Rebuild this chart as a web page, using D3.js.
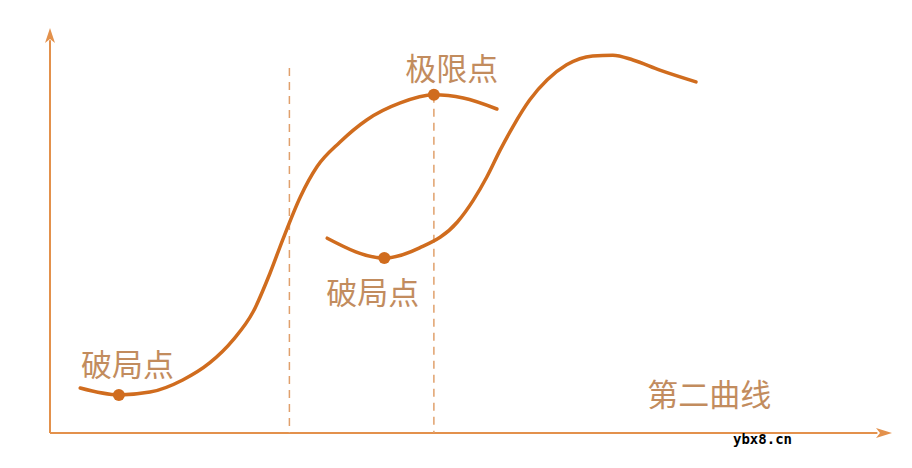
<!DOCTYPE html>
<html>
<head>
<meta charset="utf-8">
<script src="https://cdn.jsdelivr.net/npm/d3@7"></script>
<style>
  html, body { margin: 0; padding: 0; background: #fff; }
  svg { display: block; }
</style>
</head>
<body>
<div id="chart"></div>
<script>
// first curve (old growth), in 0-100 units
var curve1X = [3.6, 8.2, 11.9, 15.8, 19.0, 21.8, 24.2, 26.2, 27.7, 29.8, 31.8, 34.5, 37.7, 41.7, 45.7, 49.2, 53.2];
var curve1Y = [11.1, 9.4, 10.1, 13.1, 17.3, 23.0, 30.0, 39.5, 47.7, 58.3, 65.8, 71.8, 77.3, 81.5, 83.5, 82.7, 80.0];
// second curve
var curve2X = [33.0, 39.8, 44.0, 48.5, 50.4, 52.0, 53.6, 55.1, 57.1, 59.2, 61.5, 64.6, 67.0, 69.4, 72.6, 76.9];
var curve2Y = [48.1, 43.2, 45.7, 52.1, 57.5, 63.2, 69.9, 75.6, 82.2, 87.2, 90.9, 93.1, 93.3, 92.1, 89.6, 86.7];
// marked points
var dotX = [8.2, 39.8, 45.7];
var dotY = [9.4, 43.2, 83.5];
// vertical dashed guides
var guideX = [28.5, 45.7];
var guideTop = [90.1, 83.5];
// labels
var labelText = ["破局点", "破局点", "极限点", "第二曲线"];
var labelX = [3.7, 32.9, 42.3, 71.1];
var labelY = [14.1, 31.8, 87.2, 6.6];

var width = 912, height = 468;
var curveColor = "#d06c1e", axisColor = "#e3914c", textColor = "#c28c5e";

var svg = d3.select("#chart").append("svg")
    .attr("width", width)
    .attr("height", height);

var x = d3.scaleLinear().domain([0, 100]).range([50, 890]);
var y = d3.scaleLinear().domain([0, 100]).range([433, 28]);

// axes with arrow heads
svg.append("line")
    .attr("x1", x(0)).attr("y1", y(0))
    .attr("x2", x(0)).attr("y2", y(97))
    .attr("stroke", axisColor).attr("stroke-width", 2);
svg.append("line")
    .attr("x1", x(0)).attr("y1", y(0))
    .attr("x2", x(98.5)).attr("y2", y(0))
    .attr("stroke", axisColor).attr("stroke-width", 2);
svg.append("path")
    .attr("d", "M" + x(0) + "," + y(100) + "L" + (x(0) - 5) + "," + (y(100) + 15) +
               "L" + x(0) + "," + (y(100) + 11) + "L" + (x(0) + 5) + "," + (y(100) + 15) + "Z")
    .attr("fill", axisColor);
svg.append("path")
    .attr("d", "M" + (x(100) + 2) + "," + y(0) + "L" + (x(100) - 14) + "," + (y(0) - 5) +
               "L" + (x(100) - 10) + "," + y(0) + "L" + (x(100) - 14) + "," + (y(0) + 5) + "Z")
    .attr("fill", axisColor);

// dashed guides
svg.selectAll(".guide")
    .data(guideX)
    .enter().append("line")
    .attr("class", "guide")
    .attr("x1", function(d){ return x(d); })
    .attr("x2", function(d){ return x(d); })
    .attr("y1", function(d, i){ return y(guideTop[i]); })
    .attr("y2", y(0))
    .attr("stroke", "#e0a06c")
    .attr("stroke-width", 1.5)
    .attr("stroke-dasharray", "8,6");

var line = d3.line()
    .x(function(d){ return x(d[0]); })
    .y(function(d){ return y(d[1]); })
    .curve(d3.curveMonotoneX);

[[curve1X, curve1Y], [curve2X, curve2Y]].forEach(function(c){
  svg.append("path")
      .datum(d3.zip(c[0], c[1]))
      .attr("d", line)
      .attr("fill", "none")
      .attr("stroke", curveColor)
      .attr("stroke-width", 3.5)
      .attr("stroke-linecap", "round");
});

svg.selectAll(".dot")
    .data(d3.zip(dotX, dotY))
    .enter().append("circle")
    .attr("class", "dot")
    .attr("cx", function(d){ return x(d[0]); })
    .attr("cy", function(d){ return y(d[1]); })
    .attr("r", 6)
    .attr("fill", curveColor);

svg.selectAll(".label")
    .data(labelText)
    .enter().append("text")
    .attr("class", "label")
    .attr("x", function(d, i){ return x(labelX[i]); })
    .attr("y", function(d, i){ return y(labelY[i]); })
    .attr("fill", textColor)
    .attr("font-family", "'Noto Sans CJK SC', sans-serif")
    .attr("font-size", 31)
    .text(function(d){ return d; });

// watermark
svg.append("text")
    .attr("x", 733).attr("y", 444)
    .attr("font-family", "'DejaVu Sans Mono', monospace")
    .attr("font-size", 14)
    .attr("font-weight", "bold")
    .attr("fill", "#000")
    .text("ybx8.cn");
</script>
</body>
</html>
